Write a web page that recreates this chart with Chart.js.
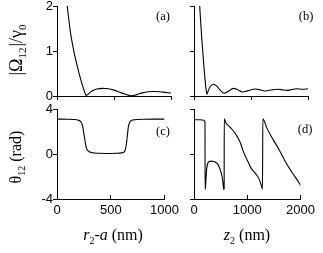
<!DOCTYPE html>
<html>
<head>
<meta charset="utf-8">
<script src="https://cdn.jsdelivr.net/npm/chart.js@4.4.0/dist/chart.umd.min.js"></script>
<style>
  html, body { margin: 0; padding: 0; background: #fff; }
  #wrap { position: relative; width: 323px; height: 253px; overflow: hidden; }
  canvas { position: absolute; }
</style>
</head>
<body>
<div id="wrap">
  <canvas id="chartA" style="left:0;top:-4px" width="187" height="112"></canvas>
  <canvas id="chartB" style="left:180px;top:-4px" width="143" height="112"></canvas>
  <canvas id="chartC" style="left:0;top:100px" width="187" height="153"></canvas>
  <canvas id="chartD" style="left:180px;top:100px" width="143" height="153"></canvas>
</div>
<script>
// (a) |Omega_12|/gamma_0 vs r2-a
const aR     = [75, 90, 100, 120, 150, 180, 200, 225, 242, 256, 272, 300, 350, 400, 450, 500, 550, 600, 655, 700, 750, 800, 850, 900, 950, 1000];
const aOmega = [2.4, 2.0, 1.78, 1.38, 0.97, 0.64, 0.44, 0.22, 0.09, 0.01, 0.04, 0.1, 0.155, 0.17, 0.16, 0.13, 0.085, 0.04, 0.003, 0.03, 0.07, 0.095, 0.1, 0.095, 0.08, 0.065];

// (b) |Omega_12|/gamma_0 vs z2
const bZ     = [90, 100, 115, 130, 150, 170, 190, 210, 226, 245, 280, 342, 400, 460, 527, 600, 690, 770, 847, 950, 1078, 1170, 1252, 1370, 1484, 1560, 1630, 1720, 1800, 1900, 2000];
const bOmega = [2.3, 2.0, 1.7, 1.4, 1.05, 0.72, 0.42, 0.16, 0.04, 0.1, 0.2, 0.26, 0.22, 0.13, 0.06, 0.1, 0.17, 0.14, 0.09, 0.12, 0.155, 0.135, 0.11, 0.14, 0.15, 0.135, 0.125, 0.145, 0.16, 0.15, 0.16];

// (c) theta_12 vs r2-a
const cR     = [0, 100, 150, 200, 220, 235, 245, 255, 265, 275, 290, 320, 350, 400, 450, 500, 550, 600, 620, 630, 640, 648, 655, 664, 676, 690, 710, 750, 800, 900, 1000];
const cTheta = [3.1, 3.09, 3.07, 3.0, 2.88, 2.6, 2.1, 1.5, 0.9, 0.5, 0.27, 0.13, 0.09, 0.06, 0.05, 0.05, 0.06, 0.1, 0.16, 0.25, 0.6, 1.1, 1.7, 2.44, 2.82, 2.97, 3.03, 3.07, 3.09, 3.1, 3.1];

// (d) theta_12 vs z2
const dZ     = [0, 100, 185, 200, 206, 208, 215, 225, 238, 266, 300, 325, 370, 412, 445, 470, 500, 527, 545, 558, 566, 568, 600, 673, 750, 817, 870, 920, 960, 1000, 1078, 1165, 1230, 1270, 1286, 1292, 1368, 1484, 1600, 1716, 1832, 1977, 2000];
const dTheta = [3.05, 3.04, 3.0, 2.9, 2.85, -3.14, -3.0, -2.2, -1.3, -0.75, -0.65, -0.63, -0.66, -0.75, -0.9, -1.13, -1.5, -2.0, -2.6, -3.14, -3.1, 3.12, 2.75, 2.4, 2.0, 1.5, 1.0, 0.3, -0.15, -0.55, -1.3, -1.8, -2.3, -2.9, -3.14, 3.12, 2.3, 1.3, 0.36, -0.69, -1.58, -2.6, -2.8];

const serif = 'Liberation Serif';
const sans = 'Liberation Sans';

function drawRich(ctx, item) {
    ctx.save();
    ctx.translate(item.x, item.y);
    if (item.rotate) ctx.rotate(item.rotate);
    ctx.fillStyle = '#000';
    ctx.textBaseline = 'alphabetic';
    let total = 0;
    item.parts.forEach(p => {
        ctx.font = p.font;
        total += ctx.measureText(p.text).width + (p.gap || 0);
    });
    let x = -total / 2;
    item.parts.forEach(p => {
        ctx.font = p.font;
        ctx.fillText(p.text, x, p.dy || 0);
        x += ctx.measureText(p.text).width + (p.gap || 0);
    });
    ctx.restore();
}

const textPlugin = {
    id: 'texts',
    afterDraw(chart, args, opts) {
        (opts.items || []).forEach(item => drawRich(chart.ctx, item));
    }
};

function points(xs, ys) {
    return xs.map((x, i) => ({ x: x, y: ys[i] }));
}

function makeChart(id, cfg) {
    const axisX = {
        type: 'linear',
        min: 0,
        max: cfg.xMax,
        afterFit: s => { s.height = cfg.xHeight; },
        ticks: {
            display: cfg.xLabels,
            stepSize: cfg.xMax / 2,
            color: '#000',
            padding: cfg.xPad,
            maxRotation: 0,
            font: { family: sans, size: 13 },
            callback: v => String(v)
        },
        grid: { drawOnChartArea: false, drawTicks: true, tickLength: cfg.xTick, color: '#000' },
        border: { color: '#000', width: 1 }
    };
    const axisY = {
        min: cfg.yMin,
        max: cfg.yMax,
        afterFit: s => { s.width = cfg.yWidth; },
        ticks: {
            display: cfg.yLabels,
            stepSize: cfg.yStep,
            color: '#000',
            padding: 0,
            font: { family: sans, size: 13 },
            callback: v => String(v)
        },
        grid: { drawOnChartArea: false, drawTicks: true, tickLength: 4, color: '#000' },
        border: { color: '#000', width: 1 }
    };
    return new Chart(document.getElementById(id), {
        type: 'line',
        data: {
            datasets: [{
                data: points(cfg.xs, cfg.ys),
                borderColor: '#000',
                borderWidth: 1.1,
                pointRadius: 0,
                fill: false,
                cubicInterpolationMode: 'monotone'
            }]
        },
        options: {
            responsive: false,
            animation: false,
            layout: { padding: cfg.padding },
            scales: { x: axisX, y: axisY },
            plugins: {
                legend: { display: false },
                tooltip: { enabled: false },
                texts: { items: cfg.texts }
            }
        },
        plugins: [textPlugin]
    });
}

const sub = '10px ' + serif;

makeChart('chartA', {
    xs: aR, ys: aOmega, xMax: 1000, yMin: 0, yMax: 2, yStep: 1,
    xLabels: false, yLabels: true, xHeight: 4, xTick: 4, xPad: 0, yWidth: 57,
    padding: { top: 10, right: 16, bottom: 8, left: 0 },
    texts: [
        { x: 22, y: 54, rotate: -Math.PI / 2, parts: [
            { text: '|Ω', font: '18px ' + serif },
            { text: '12', font: '11px ' + serif, dy: 4, gap: 1 },
            { text: '|/γ', font: '18px ' + serif },
            { text: '0', font: '11px ' + serif, dy: 4 }
        ] },
        { x: 163, y: 24, parts: [{ text: '(a)', font: '12.5px ' + serif }] }
    ]
});

makeChart('chartB', {
    xs: bZ, ys: bOmega, xMax: 2000, yMin: 0, yMax: 2, yStep: 1,
    xLabels: false, yLabels: false, xHeight: 4, xTick: 4, xPad: 0, yWidth: 14,
    padding: { top: 10, right: 15, bottom: 8, left: 0 },
    texts: [
        { x: 126, y: 24, parts: [{ text: '(b)', font: '12.5px ' + serif }] }
    ]
});

makeChart('chartC', {
    xs: cR, ys: cTheta, xMax: 1000, yMin: -4, yMax: 4, yStep: 4,
    xLabels: true, yLabels: true, xHeight: 54, xTick: -4, xPad: 8, yWidth: 57,
    padding: { top: 9, right: 16, bottom: 0, left: 0 },
    texts: [
        { x: 21, y: 57, rotate: -Math.PI / 2, parts: [
            { text: 'θ', font: '16px ' + serif },
            { text: '12', font: sub, dy: 4, gap: 4 },
            { text: '(rad)', font: '16px ' + serif }
        ] },
        { x: 113, y: 140, parts: [
            { text: 'r', font: 'italic 16px ' + serif },
            { text: '2', font: sub, dy: 4 },
            { text: '-', font: '16px ' + serif },
            { text: 'a', font: 'italic 16px ' + serif, gap: 4 },
            { text: '(nm)', font: '16px ' + serif }
        ] },
        { x: 163, y: 35, parts: [{ text: '(c)', font: '12.5px ' + serif }] }
    ]
});

makeChart('chartD', {
    xs: dZ, ys: dTheta, xMax: 2000, yMin: -4, yMax: 4, yStep: 4,
    xLabels: true, yLabels: false, xHeight: 54, xTick: -4, xPad: 8, yWidth: 14,
    padding: { top: 9, right: 15, bottom: 0, left: 0 },
    texts: [
        { x: 67, y: 140, parts: [
            { text: 'z', font: 'italic 16px ' + serif },
            { text: '2', font: sub, dy: 4, gap: 4 },
            { text: '(nm)', font: '16px ' + serif }
        ] },
        { x: 125, y: 33, parts: [{ text: '(d)', font: '12.5px ' + serif }] }
    ]
});
</script>
</body>
</html>
